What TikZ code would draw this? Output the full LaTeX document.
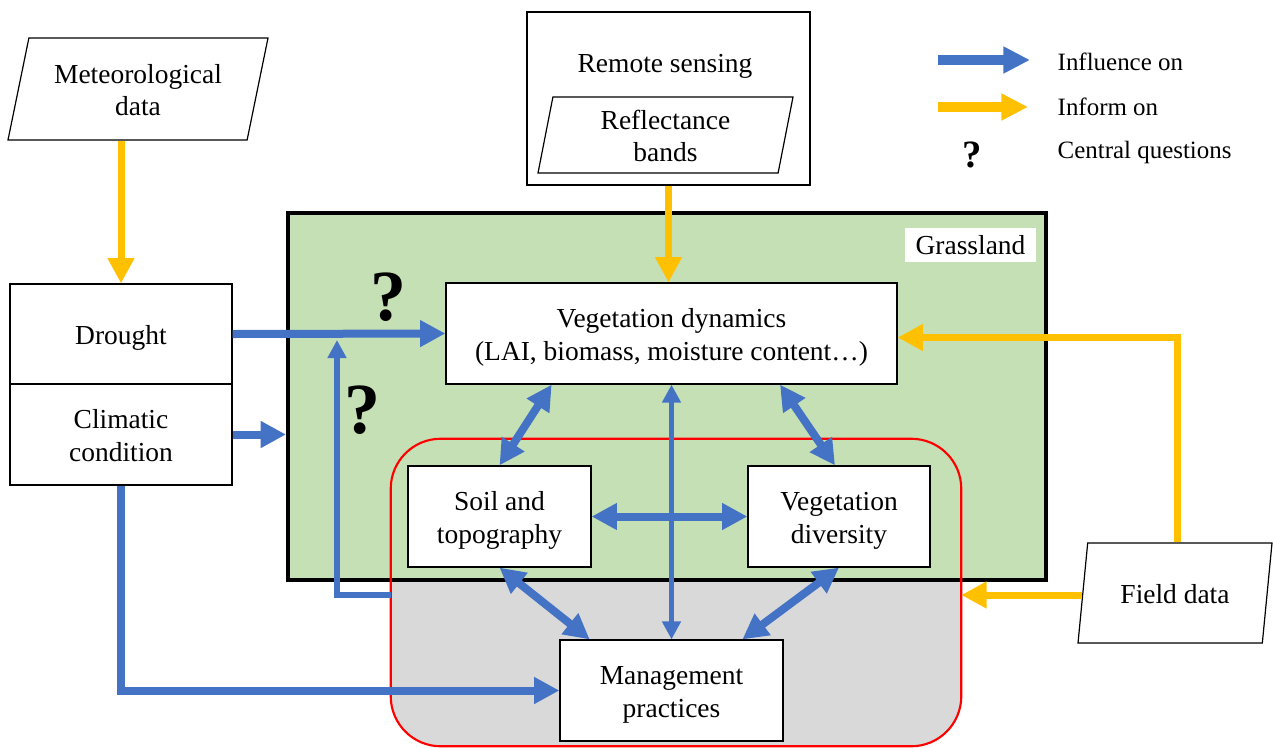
\documentclass[tikz,border=0pt]{standalone}
\usepackage{fontspec}
\setmainfont{Liberation Serif}
\usetikzlibrary{arrows.meta,shapes.geometric,calc}
\definecolor{infl}{HTML}{4472C4}
\definecolor{info}{HTML}{FFC000}
\definecolor{grassgreen}{HTML}{C5E0B4}
\definecolor{zonegray}{HTML}{D9D9D9}
\definecolor{zonered}{HTML}{FF0000}

\tikzset{
  txt/.style={font=\fontsize{20.6}{24.3}\selectfont, align=center},
  box/.style={txt, draw=black, line width=0.9pt, fill=white, inner sep=0pt,
    text height=20pt, text depth=5pt},
  twolines/.style={text height=45pt},
  databox/.style={box, trapezium, trapezium stretches body},
  qmark/.style={font=\fontsize{54}{54}\selectfont\bfseries},
  legtext/.style={font=\fontsize{18.7}{22}\selectfont, anchor=west},
  influence/.style={draw=infl, line width=6pt, -{Triangle[length=19pt,width=19pt]}},
  influboth/.style={draw=infl, line width=6pt, {Triangle[length=19pt,width=19pt]}-{Triangle[length=19pt,width=19pt]}},
  influthin/.style={draw=infl, line width=4.8pt, -{Triangle[length=13.5pt,width=13.5pt]}},
  influthinboth/.style={draw=infl, line width=4.3pt, {Triangle[length=13.5pt,width=13.5pt]}-{Triangle[length=13.5pt,width=13.5pt]}},
  inform/.style={draw=info, line width=5.25pt, -{Triangle[length=19pt,width=19pt]}},
}

\begin{document}
\begin{tikzpicture}[x=0.75pt,y=-0.75pt]
\useasboundingbox (0,0) rectangle (1273,747);

% management zone (grey), grassland on top of it
\node[fill=zonegray, minimum width=570*0.75pt, minimum height=307*0.75pt,
      rounded corners=37.5pt, inner sep=0pt] (zone) at (676,592.5) {};
\node[draw=black, line width=3pt, fill=grassgreen, minimum width=758*0.75pt,
      minimum height=367*0.75pt, inner sep=0pt] (grass) at (667,396.5) {};
\draw[zonered, line width=1.6pt, rounded corners=37.5pt]
  (zone.south west) rectangle (zone.north east);
\node[txt, fill=white, minimum width=131*0.75pt, minimum height=34*0.75pt,
      inner sep=0pt] (grasslabel) at (970.5,245) {Grassland};

% data sources
\node[databox, twolines, minimum width=260*0.75pt, minimum height=102*0.75pt,
      trapezium left angle=72.6, trapezium right angle=107.4] (met) at (138,89)
  {Meteorological\\data};
\node[draw=black, line width=0.9pt, fill=white, minimum width=283*0.75pt,
      minimum height=173*0.75pt] (rs) at (668.5,98.5) {};
\node[txt] (rstitle) at (665,66) {Remote sensing};
\node[databox, twolines, minimum width=255*0.75pt, minimum height=76*0.75pt,
      trapezium left angle=77.4, trapezium right angle=102.6] (refl) at (665.5,135)
  {Reflectance\\bands};
\node[databox, minimum width=194*0.75pt, minimum height=100*0.75pt,
      trapezium left angle=73.8, trapezium right angle=106.2] (field) at (1175,593)
  {Field data};

% drivers
\node[box, minimum width=222*0.75pt, minimum height=100*0.75pt] (drought) at (121,334) {Drought};
\node[box, twolines, minimum width=222*0.75pt, minimum height=101*0.75pt] (clim) at (121,434.5) {Climatic\\condition};

% grassland components
\node[box, twolines, minimum width=451*0.75pt, minimum height=101*0.75pt] (veg) at (671.5,333.5)
  {Vegetation dynamics\\(LAI, biomass, moisture content…)};
\node[box, twolines, minimum width=183*0.75pt, minimum height=101*0.75pt] (soil) at (499.5,516.5)
  {Soil and\\topography};
\node[box, twolines, minimum width=182*0.75pt, minimum height=101*0.75pt] (div) at (839,516.5)
  {Vegetation\\diversity};
\node[box, twolines, minimum width=223*0.75pt, minimum height=101*0.75pt] (mgmt) at (671.5,690.5)
  {Management\\practices};

% inform arrows
\draw[inform] (drought.north |- met.south) -- (drought.north);
\draw[inform] (rs.south) -- (rs.south |- veg.north);
\draw[inform] ([xshift=2pt]field.north) |- ([yshift=-3pt]veg.east);
\draw[inform] ([yshift=-1.5pt]field.west) -- ([yshift=-1.5pt]field.west -| zone.east);

% influence arrows
\draw[influence] (drought.east) -- (veg.west);
\draw[influence] (clim.east) -- (clim.east -| grass.west);
\draw[influence] (clim.south) |- (mgmt.west);
\coordinate (looptip) at (337,340);
\draw[influthin] ([yshift=-2pt]zone.west) -| (looptip);

\draw[influboth] ($(veg.south west)!0.235!(veg.south east)$) -- (soil.north);
\draw[influboth] ($(veg.south west)!0.74!(veg.south east)$) -- ([xshift=-3pt]div.north);
\draw[influboth] (soil.east) -- (div.west);
\draw[influthinboth] (veg.south) -- (mgmt.north);
\draw[influboth] (soil.south) -- ($(mgmt.north west)!0.135!(mgmt.north east)$);
\draw[influboth] (div.south) -- ($(mgmt.north west)!0.816!(mgmt.north east)$);

% central questions
\node[qmark] (q1) at (388,297) {?};
\node[qmark] (q2) at (362,410) {?};

% legend
\coordinate (lb1) at (938,60);
\coordinate (lb2) at (1030,60);
\coordinate (ly1) at (938,107);
\coordinate (ly2) at (1028,107);
\draw[draw=infl, line width=7pt, -{Triangle[length=20pt,width=19pt]}] (lb1) -- (lb2);
\draw[draw=info, line width=7pt, -{Triangle[length=20pt,width=19pt]}] (ly1) -- (ly2);
\node[font=\fontsize{29}{29}\selectfont\bfseries] (lq) at (972,155) {?};
\node[legtext] (l1) at (1053,62) {Influence on};
\node[legtext] (l2) at (1053,107) {Inform on};
\node[legtext] (l3) at (1053,152) {Central questions};
\end{tikzpicture}
\end{document}
